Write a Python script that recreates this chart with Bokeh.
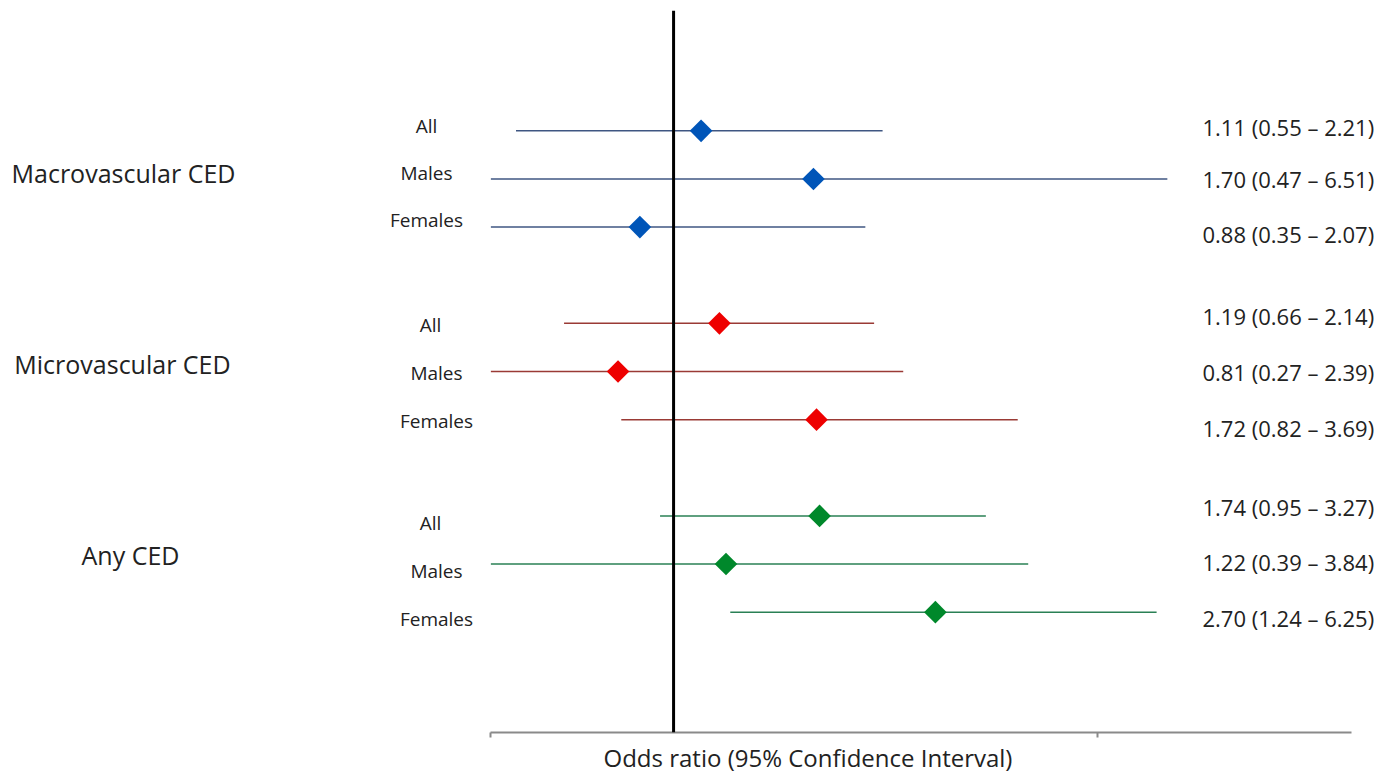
import numpy as np
from bokeh.plotting import figure
from bokeh.models import ColumnDataSource, Range1d, Span, FixedTicker, LabelSet, Title
from bokeh.core.properties import value
from bokeh.embed import file_html
from bokeh.resources import INLINE

# ---------------- data ----------------
groups = ["Macrovascular CED", "Microvascular CED", "Any CED"]
subgroups = ["All", "Males", "Females", "All", "Males", "Females", "All", "Males", "Females"]
group_index = [0, 0, 0, 1, 1, 1, 2, 2, 2]
odds_ratio = [1.11, 1.70, 0.88, 1.19, 0.81, 1.72, 1.74, 1.22, 2.70]
ci_low = [0.55, 0.47, 0.35, 0.66, 0.27, 0.82, 0.95, 0.39, 1.24]
ci_high = [2.21, 6.51, 2.07, 2.14, 2.39, 3.69, 3.27, 3.84, 6.25]
row_pos = [0, 1, 2, 4, 5, 6, 8, 9, 10]
axis_ticks = [0.5, 5]
axis_bounds = (0.5, 13.1)

# ---------------- styles ----------------
marker_colors = ["#0055B8", "#EE0000", "#00882B"]
line_colors = ["#3F5682", "#9A3A35", "#2A8055"]
row_label_x = [426, 426, 426, 430, 436, 436, 430, 436, 436]        # screen px (center)
row_label_dy = [5, 6, 7, -2, -1, -1, -7, -7, -7]                   # screen px (up)
right_label_dy = [4, 0, -7, 7, 0, -8, 9, 2, -6]                    # screen px (up)
group_label_x = [123, 122, 130]
group_label_dy = [6, 8, 9]

FONT = "Open Sans"

clipped_low = [max(l, axis_bounds[0]) for l in ci_low]
ci_text = [f"{o:.2f} ({l:.2f} \u2013 {h:.2f})" for o, l, h in zip(odds_ratio, ci_low, ci_high)]

src = ColumnDataSource(dict(
    y=row_pos, x=odds_ratio, lo=clipped_low, hi=ci_high,
    mcolor=[marker_colors[g] for g in group_index],
    lcolor=[line_colors[g] for g in group_index],
    sub=subgroups, sub_x=row_label_x, sub_dy=row_label_dy,
    ci=ci_text, ci_dy=right_label_dy, ci_x=[1202] * len(row_pos),
))

p = figure(frame_width=1375, frame_height=722,
           x_axis_type="log", x_range=Range1d(0.0778, 14.34),
           y_range=Range1d(12.5, -2.5),
           output_backend="svg", toolbar_location=None,
           y_axis_location=None,
           min_border_top=10, min_border_left=0, min_border_right=0, min_border_bottom=0)
p.outline_line_color = None
p.xgrid.visible = False
p.ygrid.visible = False
p.background_fill_color = "white"
p.border_fill_color = "white"

ax = p.xaxis[0]
ax.ticker = FixedTicker(ticks=axis_ticks)
ax.bounds = axis_bounds
ax.axis_line_color = "#8a8a8a"
ax.axis_line_width = 2
ax.major_tick_line_color = "#8a8a8a"
ax.major_tick_line_width = 2
ax.major_tick_out = 5
ax.major_tick_in = 0
ax.minor_tick_out = 0
ax.minor_tick_in = 0
ax.major_label_overrides = {t: "" for t in axis_ticks}
ax.major_label_standoff = 0
ax.major_label_text_font_size = "1px"

# reference line at OR = 1
p.add_layout(Span(location=1, dimension="height", line_color="black", line_width=3))

# confidence intervals
p.segment(x0="lo", y0="y", x1="hi", y1="y", line_color="lcolor", line_width=1.5, source=src)
# point estimates
p.scatter(x="x", y="y", marker="square", angle=np.pi / 4, size=16,
          fill_color="mcolor", line_color=None, source=src)

# subgroup labels
p.add_layout(LabelSet(x="sub_x", y="y", text="sub", x_units="screen", y_offset="sub_dy",
                      text_align="center", text_baseline="middle",
                      text_font=value(FONT), text_font_size="19px", text_color="#222222",
                      source=src))
# CI text labels
p.add_layout(LabelSet(x="ci_x", y="y", text="ci", x_units="screen", y_offset="ci_dy",
                      text_align="left", text_baseline="middle",
                      text_font=value(FONT), text_font_size="22px", text_color="#222222",
                      source=src))
# group labels
gsrc = ColumnDataSource(dict(
    x=group_label_x, y=[row_pos[i * 3 + 1] for i in range(3)], t=groups, dy=group_label_dy))
p.add_layout(LabelSet(x="x", y="y", text="t", x_units="screen", y_offset="dy",
                      text_align="center", text_baseline="middle",
                      text_font=value(FONT), text_font_size="25px", text_color="#222222",
                      source=gsrc))

# x-axis title
p.add_layout(Title(text="Odds ratio (95% Confidence Interval)", align="left", offset=603,
                   text_font="Open Sans", text_font_size="24px", text_font_style="normal",
                   text_color="#222222", standoff=3), "below")

open("out.html", "w").write(file_html(p, INLINE))
